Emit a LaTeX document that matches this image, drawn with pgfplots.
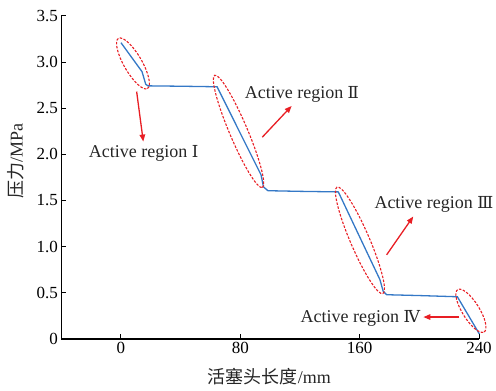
\documentclass[border=0pt]{standalone}
\usepackage{pgfplots}
\pgfplotsset{compat=1.18}
\usepackage{fontspec}
\setmainfont{Liberation Serif}
\newfontfamily\cjk{Noto Sans CJK SC}
\newfontfamily\romfont{DejaVu Serif}[Scale=0.92]
\usetikzlibrary{arrows.meta,shapes.geometric}
\definecolor{curveblue}{RGB}{52,120,198}
\definecolor{annred}{RGB}{232,30,36}
\begin{document}
\begin{tikzpicture}
\begin{axis}[
  scale only axis, width=418bp, height=323bp,
  xmin=-40, xmax=240, ymin=0, ymax=3.5,
  axis lines*=left,
  axis line style={line width=1.6bp},
  xtick={0,80,160,240},
  ytick={0,0.5,1,1.5,2,2.5,3,3.5},
  yticklabels={0,0.5,1.0,1.5,2.0,2.5,3.0,3.5},
  tick align=inside, major tick length=5bp,
  tick style={line width=1bp, black},
  /pgf/number format/assume math mode=true,
  ticklabel style={font=\fontsize{17bp}{20bp}\selectfont},
  clip=false,
]
\addplot[curveblue, line width=1.3bp] coordinates {
 (0,3.21) (14.1,2.896) (16.6,2.759) (18.1,2.742) (40,2.738) (64.4,2.732)
 (93.9,1.777) (95.5,1.647) (98.5,1.605) (120,1.598) (145.7,1.592)
 (173.6,0.64) (175.8,0.513) (178.1,0.477) (200,0.468) (225.5,0.455)
 (240.3,0.05)
};
% ellipses
\tikzset{ann/.style={draw=annred, dash pattern=on 2.5bp off 1.5bp, line width=1.1bp, ellipse, inner sep=0pt}}
\node[ann, minimum width=58bp, minimum height=18bp, rotate=-60] at (axis cs:8.04,2.985) {};
\node[ann, minimum width=122bp, minimum height=18bp, rotate=-67] at (axis cs:78.8,2.248) {};
\node[ann, minimum width=116bp, minimum height=19bp, rotate=-66.7] at (axis cs:160.2,1.067) {};
\node[ann, minimum width=50bp, minimum height=17bp, rotate=-58] at (axis cs:234.6,0.303) {};
% arrows
\tikzset{arr/.style={annred, line width=1.3bp, -{Triangle[length=7bp,width=5.5bp]}}}
\draw[arr] (axis cs:10.5,2.68) -- (axis cs:14.95,2.138);
\draw[arr] (axis cs:94.7,2.185) -- (axis cs:114.4,2.524);
\draw[arr] (axis cs:178.1,0.910) -- (axis cs:195.9,1.325);
\draw[arr] (axis cs:226.8,0.235) -- (axis cs:202.7,0.235);
% texts
\tikzset{lab/.style={font=\fontsize{18bp}{21bp}\selectfont, text=black!85, inner sep=0pt}}
\node[lab] at (axis cs:15.2,2.012) {Active region {\romfont Ⅰ}};
\node[lab] at (axis cs:121.3,2.644) {Active region {\romfont Ⅱ}};
\node[lab] at (axis cs:209.8,1.452) {Active region {\romfont Ⅲ}};
\node[lab] at (axis cs:160.5,0.224) {Active region {\romfont Ⅳ}};
% axis labels
\node[lab, rotate=90] at (axis cs:-70.4,1.923) {{\cjk 压力}/MPa};
\node[lab] at (axis cs:99.5,-0.412) {{\cjk 活塞头长度}/mm};
\coordinate (bbsw) at (axis cs:-81.1,-0.5634);
\coordinate (bbne) at (axis cs:251.4,3.673);
\end{axis}
\pgfresetboundingbox
\path (bbsw) rectangle (bbne);
\end{tikzpicture}
\end{document}
